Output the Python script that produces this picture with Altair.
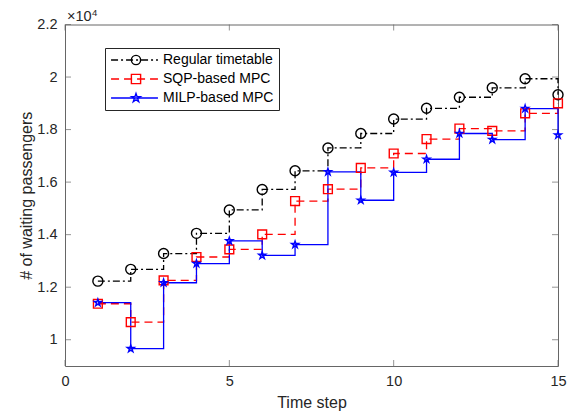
import math
import altair as alt
import pandas as pd

# ---- data ----
steps = list(range(1, 16))
regular = [12230, 12680, 13280, 14050, 14940, 15720, 16430, 17300, 17850, 18400, 18810, 19230, 19590, 19935, 19325]
sqp = [11370, 10670, 12260, 13150, 13440, 14010, 15280, 15730, 16540, 17090, 17640, 18040, 17950, 18620, 19000]
milp = [11410, 9660, 12170, 12900, 13760, 13210, 13620, 16390, 15310, 16370, 16870, 17850, 17620, 18800, 17790]
series_names = ["Regular timetable", "SQP-based MPC", "MILP-based MPC"]
x_ticks = [0, 5, 10, 15]
y_ticks = [10000, 12000, 14000, 16000, 18000, 20000, 22000]
x_domain = [0, 15]
y_domain = [9000, 22000]

rows = []
for name, vals in zip(series_names, [regular, sqp, milp]):
    for s, v in zip(steps, vals):
        rows.append({"step": s, "value": v, "series": name})
df = pd.DataFrame(rows)

# ---- styles ----
FONT = "Liberation Sans"
AX = "#666666"
colors = ["#000000", "#FF0000", "#0000FF"]
dashes = [[7, 3, 2, 3], [8, 5], [1, 0]]

pts = []
for k in range(10):
    ang = math.radians(-90 + 36 * k)
    r = 1.0 if k % 2 == 0 else 0.382
    pts.append((r * math.cos(ang), r * math.sin(ang)))
star = "M" + "L".join(f"{x:.3f},{y:.3f}" for x, y in pts) + "Z"
shapes = ["circle", "square", star]

LX, LY = 40, 23.5

xenc = alt.X("step:Q", scale=alt.Scale(domain=x_domain, nice=False, zero=False),
             axis=alt.Axis(values=x_ticks, title="Time step", labelFlush=False))
yenc = alt.Y("value:Q", scale=alt.Scale(domain=y_domain, nice=False, zero=False),
             axis=alt.Axis(values=y_ticks, title="# of waiting passengers", labelFlush=False,
                           labelExpr="format(datum.value/10000, '~g')"))

leg1 = alt.Legend(orient="none", legendX=LX, legendY=LY, title=None,
                  symbolType="stroke", symbolSize=2200, symbolStrokeWidth=1.3,
                  labelFont=FONT, labelFontSize=14, labelColor="#000000",
                  labelOffset=4, padding=5, rowPadding=5, clipHeight=14,
                  strokeColor="#262626", fillColor="white")
leg2 = alt.Legend(orient="none", legendX=LX + 19, legendY=LY, title=None,
                  symbolSize=85, symbolStrokeWidth=1.4,
                  labelExpr="''", labelFontSize=14,
                  labelOffset=4, padding=5, rowPadding=5, clipHeight=14)

lines = alt.Chart(df).mark_line(interpolate="step-after", strokeWidth=1.3).encode(
    x=xenc, y=yenc,
    color=alt.Color("series:N", scale=alt.Scale(domain=series_names, range=colors), legend=leg1),
    strokeDash=alt.StrokeDash("series:N", scale=alt.Scale(domain=series_names, range=dashes), legend=leg1),
    order=alt.Order("step:Q"),
)

points = alt.Chart(df).mark_point(filled=False, strokeWidth=1.4, opacity=1).encode(
    x="step:Q", y="value:Q",
    color=alt.Color("series:N", scale=alt.Scale(domain=series_names, range=colors), legend=leg2),
    shape=alt.Shape("series:N", scale=alt.Scale(domain=series_names, range=shapes), legend=leg2),
    size=alt.Size("series:N", scale=alt.Scale(domain=series_names, range=[100, 55, 140]), legend=None),
)

# inward ticks (box style)
xt_bottom = pd.DataFrame({"step": x_ticks, "value": [y_domain[0]] * len(x_ticks)})
xt_top = pd.DataFrame({"step": x_ticks, "value": [y_domain[1]] * len(x_ticks)})
yt_left = pd.DataFrame({"step": [x_domain[0]] * len(y_ticks), "value": y_ticks})
yt_right = pd.DataFrame({"step": [x_domain[1]] * len(y_ticks), "value": y_ticks})

def tick_layer(d, orient, xo=0, yo=0):
    return alt.Chart(d).mark_tick(orient=orient, size=6, thickness=1, color=AX,
                                  xOffset=xo, yOffset=yo).encode(x="step:Q", y="value:Q")

ticks = (tick_layer(xt_bottom, "vertical", yo=-3) + tick_layer(xt_top, "vertical", yo=3)
         + tick_layer(yt_left, "horizontal", xo=3) + tick_layer(yt_right, "horizontal", xo=-3))

exp_df = pd.DataFrame({"step": [x_domain[0]], "value": [y_domain[1]]})
exp_base = alt.Chart(exp_df).mark_text(text="×10", align="left", baseline="alphabetic",
                                       font=FONT, fontSize=14.5, color="#262626",
                                       dx=2, dy=-3.5).encode(x="step:Q", y="value:Q")
exp_sup = alt.Chart(exp_df).mark_text(text="4", align="left", baseline="alphabetic",
                                      font=FONT, fontSize=9.5, color="#262626",
                                      dx=27, dy=-9).encode(x="step:Q", y="value:Q")

chart = alt.layer(ticks, lines, points, exp_base, exp_sup).resolve_legend(
    color="independent", strokeDash="independent", shape="independent"
).properties(
    width=493, height=341.5,
    padding={"left": 57, "top": 16.5, "right": 9, "bottom": 46},
    autosize=alt.AutoSizeParams(type="none"),
).configure_view(stroke=AX, strokeWidth=1).configure_axis(
    domain=False, ticks=False, grid=False,
    labelFont=FONT, labelFontSize=14.5, labelColor="#262626", labelPadding=8,
    titleFont=FONT, titleFontSize=16, titleFontWeight="normal", titleColor="#262626",
).configure_axisX(titlePadding=7).configure_axisY(titlePadding=2)

chart.save("out.html", embed_options={"renderer": "svg", "actions": False})
